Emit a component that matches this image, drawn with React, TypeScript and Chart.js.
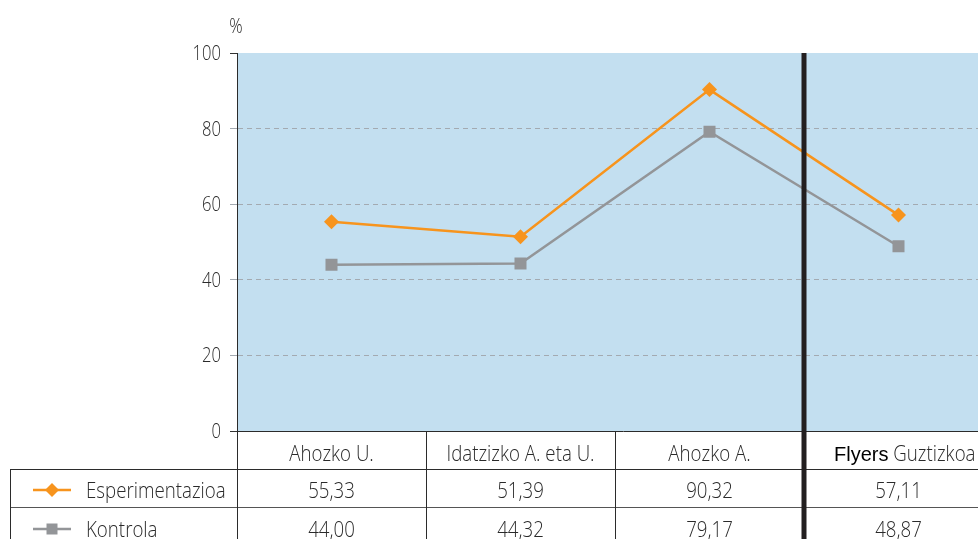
import React, { useEffect, useRef } from "react";
import { Chart, registerables } from "chart.js";

Chart.register(...registerables);

const categories = ["Ahozko U.", "Idatzizko A. eta U.", "Ahozko A.", "Flyers Guztizkoa"];
const brandWord = "Flyers";
const seriesNames = ["Esperimentazioa", "Kontrola"];
const esperimentazioa = [55.33, 51.39, 90.32, 57.11];
const kontrola = [44.0, 44.32, 79.17, 48.87];
const yTicks = [0, 20, 40, 60, 80, 100];
const unitLabel = "%";

const W = 1010;
const H = 539;
const FONT = "'Open Sans', 'DejaVu Sans Condensed', sans-serif";
const FW = "300";
const SX = 0.85;
const TEXT = "#2a2a2a";
const ORANGE = "#F7941D";
const GREY = "#939598";
const BLUE = "#C3DFF0";
const GRID = "#A3AAB1";
const DARK = "#231F20";

const fmt = (v: number) => v.toFixed(2).replace(".", ",");

function txt(
  ctx: CanvasRenderingContext2D,
  s: string,
  x: number,
  y: number,
  align: string,
  size: number,
  family = FONT,
  weight = FW,
  color = TEXT,
  sx = SX
) {
  ctx.save();
  ctx.font = `${weight} ${size}px ${family}`;
  ctx.fillStyle = color;
  ctx.textBaseline = "alphabetic";
  ctx.textAlign = "left";
  const w = ctx.measureText(s).width * sx;
  const left = align === "center" ? x - w / 2 : align === "right" ? x - w : x;
  ctx.translate(left, y);
  ctx.scale(sx, 1);
  ctx.fillText(s, 0, 0);
  ctx.restore();
  return w;
}

function drawMarker(ctx: CanvasRenderingContext2D, kind: string, x: number, y: number, r: number, color: string) {
  ctx.save();
  ctx.fillStyle = color;
  ctx.beginPath();
  if (kind === "diamond") {
    ctx.moveTo(x, y - r);
    ctx.lineTo(x + r, y);
    ctx.lineTo(x, y + r);
    ctx.lineTo(x - r, y);
    ctx.closePath();
  } else {
    ctx.rect(x - r, y - r, 2 * r, 2 * r);
  }
  ctx.fill();
  ctx.restore();
}

const tablePlugin = {
  id: "tablePlugin",
  beforeDraw(chart: any) {
    const { ctx, chartArea } = chart;
    ctx.save();
    ctx.fillStyle = BLUE;
    ctx.fillRect(chartArea.left, chartArea.top, chartArea.right - chartArea.left, chartArea.bottom - chartArea.top);
    ctx.restore();
  },
  afterDraw(chart: any) {
    const { ctx, chartArea } = chart;
    const xs = chart.scales.x;
    const ys = chart.scales.y;
    const step = xs.getPixelForValue(1) - xs.getPixelForValue(0);
    const half = step / 2;
    const rowH = 38;
    const top = chartArea.bottom;
    const r1 = top + rowH;
    const r2 = r1 + rowH;
    const legendLeft = 10;
    const TS = 22;
    const base = 29.5;

    ctx.save();
    ctx.strokeStyle = "#2b2b2b";
    ctx.lineWidth = 1;
    ctx.beginPath();
    ctx.moveTo(chartArea.left, Math.round(top) + 0.5);
    ctx.lineTo(W, Math.round(top) + 0.5);
    ctx.moveTo(legendLeft, r1 + 0.5);
    ctx.lineTo(W, r1 + 0.5);
    ctx.stroke();
    ctx.strokeStyle = "#555555";
    ctx.beginPath();
    ctx.moveTo(legendLeft, r2 + 0.5);
    ctx.lineTo(W, r2 + 0.5);
    ctx.stroke();

    ctx.strokeStyle = "#2b2b2b";
    ctx.beginPath();
    ctx.moveTo(Math.round(chartArea.left) + 0.5, chartArea.top);
    ctx.lineTo(Math.round(chartArea.left) + 0.5, H);
    ctx.moveTo(legendLeft + 0.5, r1);
    ctx.lineTo(legendLeft + 0.5, H);
    for (let i = 1; i < categories.length; i++) {
      if (i === 3) continue;
      const bx = Math.round(xs.getPixelForValue(i) - half) + 0.5;
      ctx.moveTo(bx, top);
      ctx.lineTo(bx, H);
    }
    ctx.stroke();
    ctx.restore();

    // y tick labels
    yTicks.forEach((v) => {
      txt(ctx, String(v), chartArea.left - 16, ys.getPixelForValue(v) + 7, "right", 19.5);
    });
    txt(ctx, unitLabel, chartArea.left - 1, 33, "center", 19.5);

    // header row
    categories.forEach((c, i) => {
      const cx = xs.getPixelForValue(i);
      if (c.startsWith(brandWord)) {
        const rest = c.slice(brandWord.length);
        const startX = cx - half + 30;
        const w1 = txt(ctx, brandWord, startX, top + base, "left", 20, "'Liberation Sans', Arial, sans-serif", "400", "#000000", 1);
        txt(ctx, rest, startX + w1, top + base, "left", TS);
      } else {
        txt(ctx, c, cx, top + base, "center", TS);
      }
    });
    esperimentazioa.forEach((v, i) => {
      txt(ctx, fmt(v), xs.getPixelForValue(i), r1 + base - 1, "center", TS);
    });
    kontrola.forEach((v, i) => {
      txt(ctx, fmt(v), xs.getPixelForValue(i), r2 + base, "center", TS);
    });

    // legend
    const legendRows = [
      { name: seriesNames[0], color: ORANGE, kind: "diamond", y: r1 + rowH / 2 + 2, r: 7, by: r1 + base - 1 },
      { name: seriesNames[1], color: GREY, kind: "square", y: r2 + rowH / 2 + 3, r: 5.5, by: r2 + base },
    ];
    legendRows.forEach((lr) => {
      ctx.save();
      ctx.strokeStyle = lr.color;
      ctx.lineWidth = 2.5;
      ctx.beginPath();
      ctx.moveTo(33, lr.y);
      ctx.lineTo(71, lr.y);
      ctx.stroke();
      ctx.restore();
      drawMarker(ctx, lr.kind, 52, lr.y, lr.r, lr.color);
      txt(ctx, lr.name, 86, lr.by, "left", TS);
    });

    // thick separator
    const sep = xs.getPixelForValue(3) - half;
    ctx.save();
    ctx.fillStyle = DARK;
    ctx.fillRect(sep - 2.5, chartArea.top, 5, H - chartArea.top);
    ctx.restore();
  },
};

export default function App() {
  const ref = useRef<HTMLCanvasElement | null>(null);
  useEffect(() => {
    if (!ref.current) return;
    const chart = new Chart(ref.current, {
      type: "line",
      data: {
        labels: categories,
        datasets: [
          {
            label: seriesNames[0],
            data: esperimentazioa,
            borderColor: ORANGE,
            backgroundColor: ORANGE,
            borderWidth: 2.5,
            pointStyle: "rectRot",
            pointRadius: 7.5,
            pointBorderWidth: 0,
            pointBackgroundColor: ORANGE,
            tension: 0,
          },
          {
            label: seriesNames[1],
            data: kontrola,
            borderColor: GREY,
            backgroundColor: GREY,
            borderWidth: 2.5,
            pointStyle: "rect",
            pointRadius: 8.5,
            pointBorderWidth: 0,
            pointBackgroundColor: GREY,
            tension: 0,
          },
        ],
      },
      options: {
        animation: false,
        responsive: false,
        devicePixelRatio: 1,
        layout: { padding: { left: 180, top: 53, bottom: 108, right: W - 993 } },
        plugins: { legend: { display: false }, tooltip: { enabled: false } },
        scales: {
          x: { type: "category", offset: true, display: false },
          y: {
            min: 0,
            max: 100,
            afterFit: (s: any) => {
              s.width = 57;
            },
            afterBuildTicks: (s: any) => {
              s.ticks = yTicks.map((v) => ({ value: v }));
            },
            ticks: { display: false },
            grid: {
              color: (c: any) => (c.tick && (c.tick.value === 0 || c.tick.value === 100) ? "rgba(0,0,0,0)" : GRID),
              tickColor: (c: any) => (c.tick && (c.tick.value === 0 || c.tick.value === 100) ? "#333333" : GRID),
              tickBorderDash: [],
              tickLength: 7,
              lineWidth: 1,
            },
            border: { display: true, color: "#2b2b2b", width: 1, dash: [5, 4] },
          },
        },
      },
      plugins: [tablePlugin],
    } as any);
    return () => chart.destroy();
  }, []);
  return (
    <div style={{ position: "fixed", left: 0, top: 0, width: 978, height: 539, overflow: "hidden", background: "#fff" }}>
      <canvas ref={ref} width={W} height={H} style={{ display: "block", width: W, height: H }} />
    </div>
  );
}
